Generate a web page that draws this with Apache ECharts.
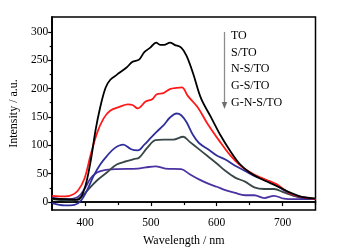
<!DOCTYPE html>
<html>
<head>
<meta charset="utf-8">
<script src="https://cdn.jsdelivr.net/npm/echarts@6/dist/echarts.min.js"></script>
<style>
  html, body { margin: 0; padding: 0; background: #fff; }
  #chart { width: 339px; height: 252px; }
</style>
</head>
<body>
<div id="chart"></div>
<script>
// sample names, top to bottom in the list
const names = ['TO', 'S/TO', 'N-S/TO', 'G-S/TO', 'G-N-S/TO']
const colors = ['#000000', '#ff1a1a', '#2f2f9c', '#374646', '#4b32a2']

// [wavelength nm, intensity a.u.]
const toData = [[350, 6], [370, 5], [389, 4], [399, 23], [408, 69], [416, 127], [423, 167], [431, 201], [438, 215], [448, 224], [463, 237], [472, 247], [482, 251], [490, 264], [499, 272], [508, 281], [514, 277], [520, 277], [529, 281], [536, 277], [546, 272], [554, 258], [564, 227], [576, 183], [591, 150], [605, 119], [620, 91], [635, 67], [650, 52], [665, 42], [680, 34], [695, 26], [709, 18], [724, 11], [735, 8], [750, 6]]
const sToData = [[350, 11], [369, 10], [379, 12], [389, 20], [399, 41], [408, 81], [418, 121], [428, 147], [438, 161], [453, 168], [465, 172], [472, 171], [480, 165], [492, 177], [502, 181], [509, 190], [519, 192], [529, 199], [539, 201], [547, 202], [556, 187], [571, 167], [586, 138], [605, 106], [620, 83], [635, 65], [650, 53], [665, 44], [680, 37], [690, 32], [700, 24], [710, 16], [725, 10], [750, 5]]
const nsToData = [[350, -2], [369, -6], [384, -5], [394, 3], [404, 23], [413, 46], [423, 66], [433, 81], [445, 95], [458, 101], [470, 93], [480, 91], [490, 101], [499, 112], [509, 124], [519, 135], [529, 149], [539, 156], [546, 153], [554, 141], [564, 118], [573, 104], [588, 92], [600, 82], [613, 75], [628, 64], [643, 55], [657, 46], [672, 40], [687, 32], [702, 21], [717, 12], [731, 7], [750, 5]]
const gsToData = [[350, 5], [379, 2], [394, 9], [404, 21], [418, 38], [433, 52], [448, 66], [463, 72], [475, 76], [482, 78], [494, 95], [507, 109], [519, 110], [534, 110], [549, 115], [559, 106], [571, 95], [586, 81], [600, 68], [613, 55], [628, 43], [643, 36], [657, 26], [672, 23], [687, 23], [702, 17], [717, 11], [731, 7], [750, 6]]
const gnsToData = [[350, 8], [369, 5], [389, 9], [399, 23], [408, 41], [418, 52], [428, 56], [448, 58], [480, 59], [492, 61], [507, 63], [522, 59], [546, 58], [559, 49], [573, 40], [588, 32], [600, 27], [613, 21], [628, 16], [643, 12], [657, 12], [672, 7], [687, 11], [702, 6], [717, 5], [750, 5]]
const allData = [toData, sToData, nsToData, gsToData, gnsToData]

const xTicks = [400, 500, 600, 700]
const xMinorTicks = [350, 450, 550, 650, 750]
const yTicks = [0, 50, 100, 150, 200, 250, 300]
const yMinorTicks = [25, 75, 125, 175, 225, 275]

const font = '"Liberation Serif", "Times New Roman", serif'
const chart = echarts.init(document.getElementById('chart'))

const baseX = {
  type: 'value', min: 350, max: 750, position: 'bottom',
  axisLine: { lineStyle: { color: '#000', width: 1.5 } },
  splitLine: { show: false },
}
const baseY = {
  type: 'value', min: -14, max: 326, position: 'left',
  axisLine: { lineStyle: { color: '#000', width: 1.5 } },
  splitLine: { show: false },
}

chart.setOption({
  animation: false,
  textStyle: { fontFamily: font },
  grid: {
    left: 47.5, right: 23.5, top: 17, bottom: 37,
    show: true, borderColor: '#000', borderWidth: 1.5,
  },
  xAxis: [
    {
      ...baseX,
      name: 'Wavelength / nm', nameLocation: 'middle', nameGap: 25,
      nameTextStyle: { fontFamily: font, fontSize: 12, color: '#000' },
      axisTick: { customValues: xTicks, length: 4, lineStyle: { color: '#000', width: 1.2 } },
      axisLabel: { customValues: xTicks, fontFamily: font, fontSize: 11.5, color: '#000', margin: 7 },
    },
    {
      ...baseX,
      axisTick: { customValues: xMinorTicks, length: 3, lineStyle: { color: '#000', width: 1.2 } },
      axisLabel: { show: false },
    },
  ],
  yAxis: [
    {
      ...baseY,
      name: 'Intensity / a.u.', nameLocation: 'middle', nameGap: 27,
      nameTextStyle: { fontFamily: font, fontSize: 12, color: '#000' },
      axisTick: { customValues: yTicks, length: 4, lineStyle: { color: '#000', width: 1.2 } },
      axisLabel: { customValues: yTicks, fontFamily: font, fontSize: 11.5, color: '#000', margin: 4 },
    },
    {
      ...baseY,
      axisTick: { customValues: yMinorTicks, length: 2.5, lineStyle: { color: '#000', width: 1.2 } },
      axisLabel: { show: false },
    },
  ],
  graphic: [
    {
      type: 'line', silent: true,
      shape: { x1: 224.5, y1: 32, x2: 224.5, y2: 105 },
      style: { stroke: '#8c8c8c', lineWidth: 1.3 },
    },
    {
      type: 'polygon', silent: true,
      shape: { points: [[221.8, 102], [227.2, 102], [224.5, 109]] },
      style: { fill: '#6e6e6e' },
    },
    ...names.map((n, i) => ({
      type: 'text', silent: true,
      left: 231, top: 30 + i * 16.6,
      style: { text: n, fill: '#000', font: '12px ' + font },
    })),
  ],
  series: names.map((n, i) => ({
    name: n,
    type: 'line',
    data: allData[i],
    smooth: 0.35,
    showSymbol: false,
    clip: true,
    lineStyle: { color: colors[i], width: 1.8 },
    z: 10 - i,
  })),
})
</script>
</body>
</html>
